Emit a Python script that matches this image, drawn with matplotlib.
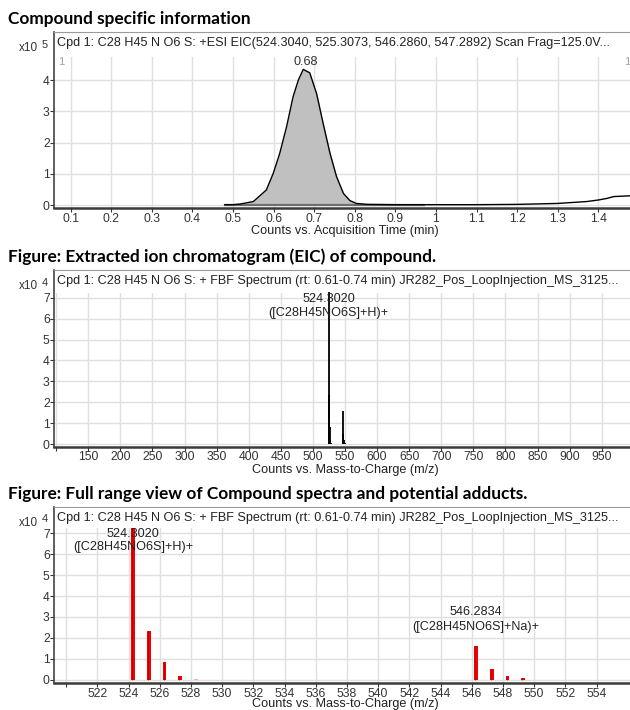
import matplotlib
matplotlib.use('Agg')
import matplotlib.pyplot as plt

# EIC trace (x10^5 counts)
eic_time = [0.48, 0.50, 0.517, 0.55, 0.582, 0.599, 0.615, 0.632, 0.648, 0.661, 0.673,
            0.689, 0.706, 0.722, 0.739, 0.755, 0.772, 0.788, 0.804, 0.83, 0.90, 0.97,
            1.10, 1.20, 1.30, 1.371, 1.40, 1.421, 1.438, 1.471, 1.483]
eic_counts = [0.01, 0.01, 0.03, 0.11, 0.48, 1.01, 1.65, 2.51, 3.47, 4.00, 4.34,
              4.23, 3.56, 2.61, 1.65, 0.91, 0.37, 0.14, 0.05, 0.02, 0.01, 0.01,
              0.01, 0.02, 0.05, 0.11, 0.16, 0.21, 0.27, 0.29, 0.30]
peak_rt = 0.68
integ_start, integ_end = 0.48, 0.97

# spectrum (x10^4 counts)
mz = [524.302, 525.305, 526.308, 527.31, 528.31, 546.2834, 547.286, 548.289, 549.29]
mz_counts = [7.25, 2.34, 0.83, 0.20, 0.05, 1.60, 0.51, 0.19, 0.08]
matched = [True, True, True, True, False, True, True, True, True]
adducts = [(524.302, '524.3020', '([C28H45NO6S]+H)+'),
           (546.2834, '546.2834', '([C28H45NO6S]+Na)+')]

header_eic = 'Cpd 1: C28 H45 N O6 S: +ESI EIC(524.3040, 525.3073, 546.2860, 547.2892) Scan Frag=125.0V...'
header_ms = 'Cpd 1: C28 H45 N O6 S: + FBF Spectrum (rt: 0.61-0.74 min) JR282_Pos_LoopInjection_MS_3125...'

W, H = 630, 710
FS = 9.1
plt.rcParams['font.family'] = ['Liberation Sans', 'DejaVu Sans']
fig = plt.figure(figsize=(W / 100, H / 100), dpi=100)


def px_axes(left, top, right, bottom):
    return fig.add_axes([left / W, 1 - bottom / H, (right - left) / W, (bottom - top) / H])


def ftext(x, y, s, **kw):
    fig.text(x / W, 1 - y / H, s, **kw)


def style(ax, band_from, yticks, xticks, xlabels):
    ax.set_axisbelow(True)
    ax.grid(True, color='#e0e0e0', lw=1)
    ax.axhspan(band_from, ax.get_ylim()[1], color='white', lw=0, zorder=1)
    ax.spines['top'].set_color('#9a9a9a')
    ax.spines['right'].set_visible(False)
    ax.spines['left'].set_color('#444444')
    ax.spines['left'].set_linewidth(1.2)
    ax.spines['bottom'].set_color('#3a3a3a')
    ax.spines['bottom'].set_linewidth(1.8)
    ax.set_yticks(yticks)
    ax.set_xticks(xticks)
    ax.set_xticklabels(xlabels)
    ax.tick_params(direction='out', length=3, width=0.8, colors='#333333',
                   labelsize=8.7, pad=0.3)


def titles(top, title, header, xlabel, xlabel_y, expo):
    ftext(8, top - 13, title, fontsize=12.4, fontweight='bold', family='Lato',
          color='black', va='center')
    ftext(57, top + 11, header, fontsize=FS, color='#222222', va='center')
    ftext(38, top + 16, 'x10', fontsize=8.5, color='#333333', va='center', ha='right')
    ftext(42, top + 13, expo, fontsize=8, color='#333333', va='center')
    ftext(345, xlabel_y, xlabel, fontsize=FS, color='#222222', va='center', ha='center')


# ---- panel 1: EIC ----
ax1 = px_axes(54.3, 31.7, 632, 208)
ax1.set_xlim(0.0596, 1.483)
ax1.set_ylim(-0.096, 5.546)
ticks1 = [round(0.1 * i, 1) for i in range(1, 15)]
style(ax1, 4.75, [0, 1, 2, 3, 4], ticks1, [f'{v:g}' for v in ticks1])
inside = [(t, c) for t, c in zip(eic_time, eic_counts) if integ_start <= t <= integ_end]
ax1.fill_between([p[0] for p in inside], [p[1] for p in inside], 0,
                 color='#c0c0c0', lw=0, zorder=2)
ax1.plot([integ_start, integ_end], [0.01, 0.01], color='#6e6e6e', lw=1.6, zorder=3)
ax1.plot(eic_time, eic_counts, color='black', lw=1.0, zorder=4)
ax1.text(peak_rt, max(eic_counts) + 0.25, f'{peak_rt:.2f}', ha='center', va='center',
         fontsize=FS, color='#333333', zorder=5)
ftext(61.7, 61.7, '1', fontsize=8, color='#a0a0a0', va='center', ha='center')
ftext(624, 61.7, '1', fontsize=8, color='#a0a0a0', va='center', ha='left')
titles(31.7, 'Compound specific information', header_eic,
       'Counts vs. Acquisition Time (min)', 231, '5')

# ---- panel 2: full spectrum ----
ax2 = px_axes(54.3, 270, 632, 446.7)
ax2.set_xlim(97.0, 997.2)
ax2.set_ylim(-0.115, 8.32)
ticks2 = list(range(100, 1000, 50))
style(ax2, 7.22, list(range(8)), ticks2, [''] + [str(v) for v in ticks2[1:]])
ax2.vlines(mz, 0, mz_counts, color='black', lw=1.3, zorder=3)
for x, lab1, lab2 in adducts[:1]:
    ax2.text(x, 6.94, lab1, ha='center', va='center', fontsize=FS, color='#222222', zorder=5)
    ax2.text(x, 6.27, lab2, ha='center', va='center', fontsize=FS, color='#222222', zorder=5)
titles(270, 'Figure: Extracted ion chromatogram (EIC) of compound.', header_ms,
       'Counts vs. Mass-to-Charge (m/z)', 470, '4')

# ---- panel 3: zoomed spectrum ----
ax3 = px_axes(54.3, 506.5, 632, 683)
ax3.set_xlim(519.24, 556.27)
ax3.set_ylim(-0.158, 8.28)
ticks3 = list(range(520, 556, 2))
style(ax3, 7.25, list(range(8)), ticks3, [''] + [str(v) for v in ticks3[1:]])
cols = ['#f00000' if m else '#f4a8cf' for m in matched]
ax3.bar(mz, mz_counts, width=0.24, color=cols, zorder=3)
ax3.vlines([m - 0.06 for m, ok in zip(mz, matched) if ok],
           0, [c for c, ok in zip(mz_counts, matched) if ok],
           color='#b00000', lw=0.5, zorder=4)
for (x, lab1, lab2), ys in zip(adducts, [(6.95, 6.33), (3.23, 2.52)]):
    ax3.text(x, ys[0], lab1, ha='center', va='center', fontsize=FS, color='#222222', zorder=5)
    ax3.text(x, ys[1], lab2, ha='center', va='center', fontsize=FS, color='#222222', zorder=5)
titles(506.5, 'Figure: Full range view of Compound spectra and potential adducts.', header_ms,
       'Counts vs. Mass-to-Charge (m/z)', 704.5, '4')

fig.savefig('out.png', dpi=100, facecolor='white')
